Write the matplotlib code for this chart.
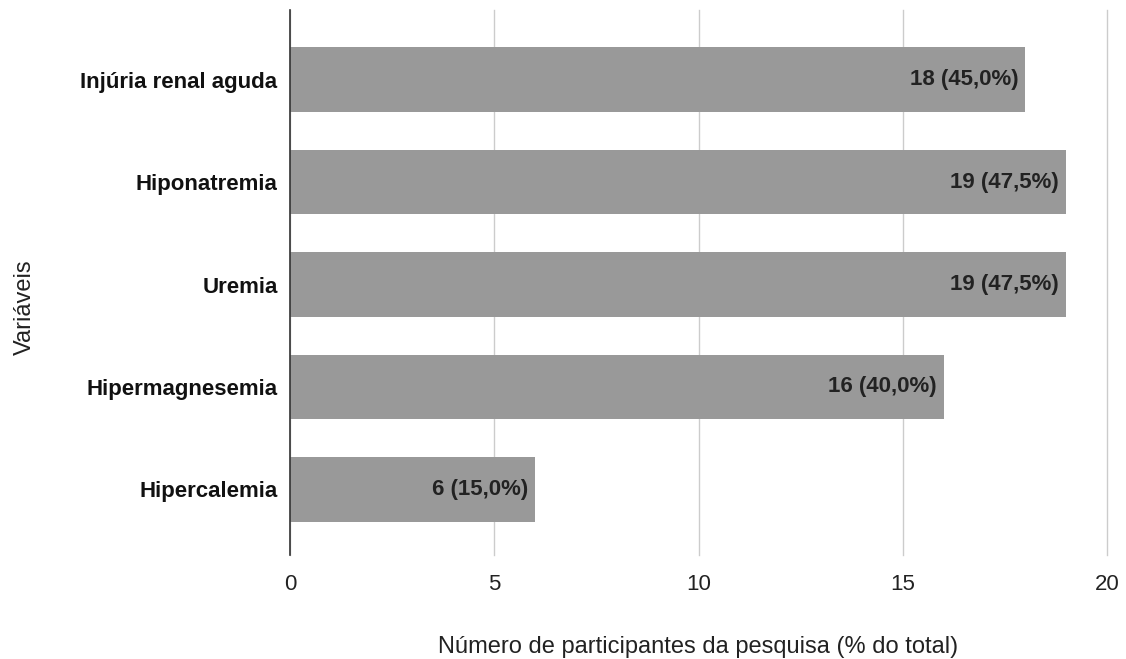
import matplotlib
matplotlib.use("Agg")
import matplotlib.pyplot as plt

categories = ["Injúria renal aguda", "Hiponatremia", "Uremia", "Hipermagnesemia", "Hipercalemia"]
values = [18, 19, 19, 16, 6]
labels = ["18 (45,0%)", "19 (47,5%)", "19 (47,5%)", "16 (40,0%)", "6 (15,0%)"]
xticks = [0, 5, 10, 15, 20]

plt.rcParams['font.family'] = ['Liberation Sans', 'DejaVu Sans']

fig = plt.figure(figsize=(11.26, 6.59), dpi=100)
ax = fig.add_axes([290/1126, 104/659, 817/1126, 545/659])

ypos = list(range(len(categories)))
ax.barh(ypos, values, height=0.63, color="#999999", zorder=2)
for y, v, lab in zip(ypos, values, labels):
    ax.text(v - 0.17, y, lab, ha="right", va="center", fontsize=16, fontweight="bold", color="#222222", zorder=3)

ax.set_xlim(0, 20)
ax.set_ylim(4.64, -0.68)
ax.set_yticks(ypos)
ax.set_yticklabels(categories, fontsize=16, fontweight="bold", color="#111111")
ax.set_xticks(xticks)
ax.set_xticklabels([str(t) for t in xticks], fontsize=16, color="#222222")
ax.tick_params(axis="y", length=0, pad=9)
ax.tick_params(axis="x", length=0, pad=14)
ax.grid(axis="x", color="#cccccc", linewidth=1, zorder=0)
for gl in ax.get_xgridlines():
    gl.set_clip_on(False)
for s in ["top", "right", "bottom"]:
    ax.spines[s].set_visible(False)
ax.spines["left"].set_color("#333333")
ax.spines["left"].set_linewidth(1.2)
ax.spines["left"].set_zorder(4)

ax.set_xlabel("Número de participantes da pesquisa (% do total)", fontsize=17, color="#222222", labelpad=29)
fig.text(25/1126, 1 - 307/659, "Variáveis", rotation=90, ha="center", va="center", fontsize=17, color="#222222")

fig.savefig("out.png", dpi=100)
